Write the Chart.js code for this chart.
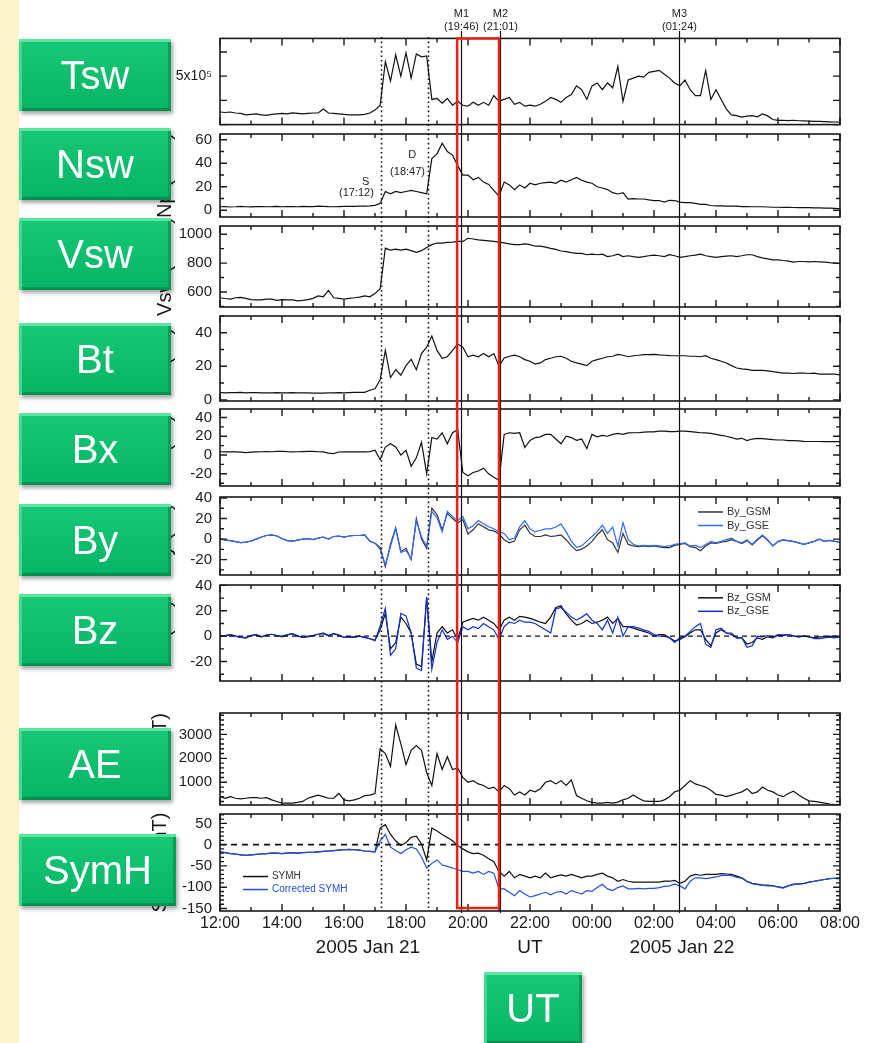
<!DOCTYPE html>
<html>
<head>
<meta charset="utf-8">
<script src="https://cdn.jsdelivr.net/npm/chart.js@4.4.1/dist/chart.umd.min.js"></script>
<style>
  body { margin:0; width:872px; height:1043px; background:#fff; position:relative; overflow:hidden;
         font-family:"Liberation Sans", Arial, sans-serif; }
  .strip { position:absolute; left:0; top:0; width:19px; height:1043px; background:#fdf3c9; }
  canvas { position:absolute; }
  #overlay { pointer-events:none; z-index:3; }
  .tag { position:absolute; width:152px; height:72px; color:#fff; font-size:40px; line-height:72px;
         text-align:center; z-index:5; background:linear-gradient(#17c874,#05b565);
         box-shadow: inset 0 3px 0 #5ee3a0, inset 3px 0 0 #3fd88e, inset 0 -3px 0 #07914f,
                     inset -3px 0 0 #0a9d58, 2px 3px 4px rgba(0,0,0,.35); }
</style>
</head>
<body>
<div class="strip"></div>
<canvas id="overlay" width="720" height="920" style="left:150px;top:0"></canvas>
<script>
// 10-minute samples, hours after 2005 Jan 21 12:00 UT
const hours = Array.from({length: 121}, (_, i) => i / 6);

// proton temperature, units of 1e5 K
const tswE5 = [1.3,1.25,1.3,1.2,1.15,1.0,1.05,1.1,1.0,0.95,1.05,
  1.1,1.15,1.1,1.2,1.15,1.1,1.15,1.2,1.2,1.6,
  1.2,1.15,1.1,1.05,1.0,1.0,1.0,1.05,1.2,1.5,
  2.0,6.5,4.5,7.2,5.0,7.4,4.8,7.3,7.0,7.1,
  2.6,2.7,2.2,2.7,2.0,2.4,2.0,1.9,2.3,2.0,
  2.3,2.0,3.0,2.4,2.6,2.8,2.1,2.3,1.9,2.0,
  1.9,2.1,2.4,2.8,2.6,2.3,2.8,3.1,4.0,3.6,
  2.6,4.0,4.3,3.6,4.3,3.8,6.0,2.4,4.6,4.8,
  5.0,4.9,5.4,5.5,5.6,5.2,4.8,4.3,4.0,4.6,
  3.6,3.0,3.0,5.6,2.6,3.6,2.6,1.6,1.0,0.93,
  0.77,0.87,0.93,0.8,1.1,0.9,0.53,0.43,0.45,0.42,
  0.45,0.4,0.38,0.35,0.33,0.33,0.3,0.28,0.27,0.25];

// proton density, cm^-3
const np = [3.0,3.2,2.8,3.0,3.3,3.0,2.9,3.1,3.2,3.0,3.1,
  3.3,3.0,3.2,3.1,3.0,3.4,3.2,3.1,3.5,3.3,
  3.1,3.0,3.2,3.3,3.4,3.3,3.5,3.6,3.8,4.2,
  6.0,16,14,16,15,16,17,16,15,14,
  44,48,57,50,47,38,30,30,26,28,
  24,22,17,12,24,21.6,17.6,21.6,19,23,
  21.6,23,23.5,24,23,25.6,24,26,28,25.6,
  24,23,20,19,17.6,15,13.9,15,9.6,10,
  9.6,9.6,8.8,8.3,8.3,7,8.5,8.3,7,6.5,
  6.5,5.9,5.1,5.1,4.1,3.8,3.8,3.6,3.5,3.5,
  3.2,3.2,3.0,3.0,3.0,2.8,2.6,2.6,2.5,2.6,
  2.4,2.3,2.2,2.2,2.0,2.0,1.8,1.8,1.6,1.3];

// flow speed, km/s
const vsw = [560,555,551,560,562,556,547,545,545,551,551,
  542,547,545,545,538,542,547,556,573,567,
  611,560,556,551,556,560,565,573,567,589,
  622,904,890,897,890,897,886,875,886,908,
  928,939,939,943,945,950,950,972,967,961,
  958,954,950,945,940,933,928,928,933,928,
  917,917,911,902,895,884,880,873,867,867,
  858,862,858,862,845,851,862,845,851,845,
  840,845,851,855,851,845,858,851,840,845,
  851,855,862,851,845,840,845,849,851,845,
  851,858,858,845,836,829,823,823,818,814,
  807,811,811,809,811,809,807,803,800,796];

// field magnitude and components, nT
const bt = [4.3,4.2,4.3,4.3,4.4,4.2,4.3,4.3,4.2,4.1,4.2,
  4.3,4.2,4.2,4.3,4.2,4.2,4.1,4.0,4.0,4.0,
  4.1,4.2,4.3,4.2,4.3,4.4,4.4,4.5,5.7,6.6,
  12,29.5,13.3,18,14.7,20.4,24.2,18,27.6,31.4,
  38,29.5,24.8,25.7,29.5,33.3,31.4,25.7,26.6,25.7,
  27.6,25.7,27.6,20,25,26,26.6,25.7,24,23,
  21.3,22,24,24.8,25.7,26,24.8,23,22,21.3,
  20.4,23,24,24.8,25.7,26,27.1,26.6,25.7,26.3,
  26.6,27,27,27.1,26.8,26.6,26.4,26.3,26.3,26.3,
  26,26,25.7,26.3,24.8,24,23,22,20.4,19,
  18.5,18.2,17.6,17.6,17.6,17.3,16.8,16.4,15.9,15.9,
  15.7,15.9,16,15.7,15.9,15.3,15.3,15.4,15.3,14.9];

const bx = [3.5,3.4,3.5,3.3,3.0,2.5,3.0,3.4,3.5,3.6,3.5,
  3.8,4.0,3.6,3.4,3.5,3.6,3.8,3.9,3.5,3.3,
  2.0,1.5,3.2,3.5,3.3,3.4,3.5,3.4,3.6,5.1,
  -5,8.5,12,8.5,0,5,-12,-3,13.5,-20,
  18.6,17,23.7,12,23.7,27,-18.6,-22,-18.6,-17,
  -14,-20,-23.7,-27,22,23.7,23,23.7,8,15.6,
  18.6,19.3,22,22,17,12,20,18.6,15.6,17,
  6.8,22,19.3,20.8,20,22,23,22,23.5,23.7,
  23.7,24.4,24.7,24.7,25.4,25.4,25,25,25.4,25.4,
  25,24.4,23.7,23.5,23,22,21,20,18.6,17,
  17.8,15.3,17,17.8,17.5,17,16.3,16,16,15.3,
  15.3,15,14.6,14.4,14.4,14.4,14.3,14.3,14.2,14.2];

const byGse = [0.5,-1,-1.5,-2.5,-3.5,-3,-2,0,2,3.5,4,
  3,0.5,-1.5,-2,-1,0,0.5,-0.5,1,2,
  0,2.5,3,2,3,3.5,3.5,4,-2,-4,
  -10,-25,-7,10,-13,-11,-19,18,2,-7,
  27,21,7,27,22,18,22,10,13,18,
  15,12,10,7,5.5,-0.6,1,12,18,10,
  7,8.6,10,10,11.7,14.8,7,-2,-8,-6.7,
  -2,2.5,7,13.6,5.5,11.7,-6.7,16,-0.6,-5,
  -6.7,-6.1,-6.7,-6.1,-6.7,-7.3,-6.7,-5.2,-4.3,-3.7,
  -6.7,-6.1,-8.3,-5.2,-2.2,-3.7,-2.2,-0.6,0.9,-2.2,
  -3.7,-0.6,-5.2,0,4,-0.6,-6.7,-2.2,-0.6,-1.5,
  -2.2,-3.7,-5.2,-3.7,-2.2,0,-2.2,-1.2,-2.2,-3.1];

const byGsm = [0.5,-1,-1.5,-2.5,-3.5,-3,-2,0,2,3.5,4,
  3,0.5,-1.5,-2,-1,0,0.5,-0.5,1,2,
  0,2.5,3,2,3,3.5,3.5,4,-2,-4,
  -8,-27,-5,11,-12,-9,-20,20,0,-9,
  30,24,9,25,20,16,19,5,9,15,
  12,9,8,5,-0.6,-3.7,-2,9,13.6,5.5,
  2.5,2.5,4,2.5,3.1,4,-0.6,-6.7,-11.3,-9.8,
  -6.7,-2.2,4,9,-0.6,-3.7,-13,5.5,-5.2,-6.7,
  -7.3,-6.7,-7.3,-6.7,-7.6,-8.3,-8.3,-6.1,-5.2,-4.3,
  -7.3,-8.3,-11.3,-6.7,-3.7,-4.3,-3.1,-2.2,-0.6,-2.2,
  -4.3,-1.5,-5.8,-0.9,3.1,-1.2,-6.7,-2.5,-0.9,-1.8,
  -2.5,-3.7,-5.2,-3.7,-2.2,0,-2.2,-1.2,-2.2,-3.1];

const bzGse = [0.5,0.5,1.5,0,-1,-1,0.5,1.5,-0.5,1,1.5,
  0.5,0,1,2,0.5,-1,0,0.5,1.5,2.5,
  0.5,2,1,-1,-0.5,-0.5,0,-1,-2,-3.5,
  8,22,-15,-10,18,16,2.5,-25,-27,31,
  -26,-5,5,-2.5,0,-5,7.5,5,7.5,6,
  10,7.5,5,-2.5,7.5,11,10,12.6,11,11,
  10,7.5,5,2.5,21.4,22.6,18.9,15,12.6,15,
  17.6,12.6,10,5,12.6,2.5,15,0,7.5,7.5,
  6.3,5,3.8,1.3,0,0,-1.3,-5,-1.3,0,
  3.8,7.5,10,-6.3,-8.8,5,6.3,2.5,2.5,-1.3,
  -1.3,-8.8,-7.5,0,-0.5,0.5,-0.8,1.3,1,1.3,
  0.3,-0.5,0.5,-0.5,-2,-2,-1.3,-0.8,-1.3,-0.8];

const bzGsm = [0,0.5,1,0,-1,-1.5,0.5,1,-0.5,0.5,1.5,
  0.5,-0.5,1,2,0,-1,-0.5,0.5,1.5,2,
  0.5,2,0.5,-1,-0.5,-1,0,-1,-2,-3,
  5,18,-10,-5,15,10,2.5,-22,-24,30,
  -20,2.5,7.5,2.5,5,-2.5,11,12.6,14,12.6,
  15,12.6,10,5,12.6,15,12.6,15.6,15,14,
  12.6,11,10,15,22.6,23.9,17.6,12.6,8.8,10,
  12.6,10,11,12.6,15,10,14,7.5,7.5,6.3,
  5,3.8,2.5,0,1.3,1.3,-1.3,-3.8,-2.5,-0.5,
  2.5,5,5,-2.5,-7.5,2.5,5,2.5,1.3,-1.3,
  -1.3,-6.3,-5,-1.3,-2.5,-0.5,-1.3,0.8,0.5,1.3,
  0,-0.5,0,-0.5,-1.3,-0.5,-0.5,0,-0.5,-0.5];

// AE index, nT
const ae = [400,333,400,333,307,333,360,360,333,360,267,
  200,133,133,133,160,200,333,400,467,400,
  333,333,533,267,227,267,333,440,467,533,
  2400,2200,1667,3400,2600,1733,2333,2533,2333,1400,
  867,2200,1533,2067,1533,1600,1200,1000,1067,933,
  867,733,800,600,867,733,467,600,467,667,
  600,733,1000,1067,933,1067,867,1100,450,333,
  227,160,133,133,160,133,173,267,333,467,
  333,227,200,200,200,267,400,600,667,867,
  1067,933,867,800,667,493,467,400,467,533,
  600,733,533,600,800,667,600,467,400,533,
  627,467,333,227,200,173,133,93,67,67];

// SYM-H and pressure-corrected SYM-H, nT
const symh = [-17,-19,-21,-22,-24,-25,-24,-23,-22,-21,-20,
  -20,-21,-20,-19,-20,-19,-18,-18,-17,-16,
  -15,-14,-13,-12,-11,-12,-13,-15,-16,-17,
  39,47,24,9,-2,5,17,20,1.5,-36,
  39,32,24,17,9,-2,-10,-17,-21,-20,
  -25,-33,-40,-63,-74,-63,-78,-70,-74,-78,
  -74,-78,-67,-78,-74,-71,-74,-70,-74,-78,
  -74,-74,-70,-67,-74,-78,-86,-82,-86,-88,
  -88,-88,-88,-88,-88,-86,-86,-84,-91,-86,
  -74,-70,-72,-70,-70,-70,-68,-69,-70,-74,
  -78,-86,-91,-93,-95,-95,-97,-99,-101,-97,
  -93,-92,-91,-88,-86,-84,-82,-80,-79,-78];

const symhCorr = [-17,-19,-21,-22,-24,-25,-24,-23,-22,-21,-20,
  -20,-21,-20,-19,-20,-19,-18,-18,-17,-16,
  -15,-14,-13,-12,-11,-12,-13,-15,-16,-17,
  9,24,-6,-14,-21,-12,-6,-10,-29,-55,
  -44,-36,-48,-51,-55,-59,-63,-63,-67,-63,
  -70,-63,-67,-104,-104,-112,-120,-108,-116,-123,
  -120,-116,-112,-118,-112,-110,-116,-108,-112,-116,
  -108,-110,-101,-93,-104,-108,-101,-97,-104,-104,
  -103,-104,-103,-103,-101,-98,-97,-93,-97,-104,
  -86,-78,-78,-80,-78,-76,-73,-72,-73,-77,
  -79,-87,-92,-94,-96,-97,-97,-100,-102,-97,
  -94,-93,-92,-88,-86,-84,-82,-80,-79,-78];

// axis labels
const tswTicks = [5];
const npTicks = [0, 20, 40, 60];
const vswTicks = [600, 800, 1000];
const btTicks = [0, 20, 40];
const bTicks = [-20, 0, 20, 40];
const aeTicks = [1000, 2000, 3000];
const symhTicks = [-150, -100, -50, 0, 50];
const utTicks = [0, 2, 4, 6, 8, 10, 12, 14, 16, 18, 20];
const utLabels = ['12:00','14:00','16:00','18:00','20:00','22:00','00:00','02:00','04:00','06:00','08:00'];

// event markers: name, clock label, hours after 12:00
const eventNames = ['S', 'D', 'M1', 'M2', 'M3'];
const eventClock = ['17:12', '18:47', '19:46', '21:01', '01:24'];
const eventHours = [5.2, 6.72, 7.767, 9.017, 14.82];
const boxHours = [7.65, 9.0];

Chart.defaults.font.family = '"Liberation Sans", Arial, sans-serif';
Chart.defaults.color = '#1a1a1a';
Chart.defaults.animation = false;

const BLACK = '#111', BLUE = '#1f4fe6';
const pts = vals => vals.map((v, i) => ({x: hours[i], y: v}));

const rows = [
  {top:37,  bottom:126, min:0,    max:8.9,  minor:2.5, major:2.5, ticks:tswTicks, fmt:() => '5x10⁵', title:'',
   series:[{data:tswE5, color:BLACK}]},
  {top:132, bottom:219, min:-5.7, max:64.9, minor:10,  major:20,  ticks:npTicks,  title:'Np (cm⁻³)',
   series:[{data:np, color:BLACK}],
   notes:[{text:'S', t:4.7, v:24}, {text:'(17:12)', t:4.4, v:14.5}, {text:'D', t:6.2, v:47}, {text:'(18:47)', t:6.05, v:32.5}]},
  {top:224, bottom:309, min:496,  max:1057, minor:100, major:200, ticks:vswTicks, title:'Vsw (km/s)',
   series:[{data:vsw, color:BLACK}]},
  {top:314, bottom:403, min:-0.7, max:50,   minor:10,  major:20,  ticks:btTicks,  title:'Bt (nT)',
   series:[{data:bt, color:BLACK}]},
  {top:407, bottom:488, min:-33,  max:49,   minor:10,  major:20,  ticks:bTicks,   title:'Bx (nT)',
   series:[{data:bx, color:BLACK}]},
  {top:495, bottom:577, min:-35,  max:41,   minor:10,  major:20,  ticks:bTicks,   title:'By (nT)',
   series:[{data:byGse, color:'#2f6bff', label:'By_GSE'}, {data:byGsm, color:'#333', label:'By_GSM'}],
   legend:{t:15.42, v:26.4, gap:13.5, order:[1, 0]}},
  {top:583, bottom:683, min:-35.3, max:40.3, minor:10, major:20,  ticks:bTicks,   title:'Bz (nT)', zero:true,
   series:[{data:bzGse, color:'#0c2fe0', label:'Bz_GSE'}, {data:bzGsm, color:BLACK, label:'Bz_GSM'}],
   legend:{t:15.42, v:30.2, gap:13.5, order:[1, 0]}},
  {top:711, bottom:807, min:52,   max:3892, minor:200, major:1000, ticks:aeTicks, title:'AE (nT)', titleEnd:true,
   series:[{data:ae, color:BLACK}]},
  {top:812, bottom:911, min:-156, max:72,   minor:10,  major:50,  ticks:symhTicks, title:'SYMH (nT)', zero:true, last:true,
   series:[{data:symhCorr, color:BLUE, label:'Corrected SYMH'}, {data:symh, color:BLACK, label:'SYMH'}],
   legend:{t:0.74, v:-75, gap:13, order:[1, 0], small:true}}
];

function drawFrame(chart, row) {
  const {ctx, chartArea: a, scales: {x, y}} = chart;
  ctx.save();
  if (row.zero) {
    const y0 = y.getPixelForValue(0);
    ctx.setLineDash(row.last ? [6, 5] : [5, 4]);
    ctx.lineWidth = row.last ? 1.8 : 1.2;
    ctx.strokeStyle = '#111';
    ctx.beginPath(); ctx.moveTo(a.left, y0); ctx.lineTo(a.right, y0); ctx.stroke();
    ctx.setLineDash([]);
  }
  ctx.strokeStyle = '#1a1a1a';
  ctx.lineWidth = 1.4;
  ctx.beginPath();
  for (let h = 0; h <= 20; h++) {
    const px = x.getPixelForValue(h), len = h % 2 ? 4 : 7;
    ctx.moveTo(px, a.top); ctx.lineTo(px, a.top + len);
    ctx.moveTo(px, a.bottom); ctx.lineTo(px, a.bottom - len);
  }
  for (let v = Math.ceil(row.min / row.minor) * row.minor; v <= row.max; v += row.minor) {
    const py = y.getPixelForValue(v);
    const q = v / row.major, len = Math.abs(q - Math.round(q)) < 1e-6 ? 7 : 4;
    ctx.moveTo(a.left, py); ctx.lineTo(a.left + len, py);
    ctx.moveTo(a.right, py); ctx.lineTo(a.right - len, py);
  }
  ctx.stroke();
  ctx.lineWidth = 1.6;
  ctx.strokeRect(a.left, a.top, a.right - a.left, a.bottom - a.top);

  if (row.legend) {
    const L = row.legend;
    const lx = x.getPixelForValue(L.t), ly = y.getPixelForValue(L.v);
    ctx.font = (L.small ? 10 : 11) + 'px "Liberation Sans", Arial, sans-serif';
    ctx.textBaseline = 'middle';
    L.order.forEach((si, k) => {
      const s = row.series[si], yy = ly + k * L.gap;
      ctx.strokeStyle = s.color; ctx.lineWidth = 1.5;
      ctx.beginPath(); ctx.moveTo(lx, yy); ctx.lineTo(lx + 25, yy); ctx.stroke();
      ctx.fillStyle = L.small && si === 0 ? s.color : '#333';
      ctx.fillText(s.label, lx + 29, yy);
    });
  }
  if (row.notes) {
    ctx.font = '11px "Liberation Sans", Arial, sans-serif';
    ctx.textAlign = 'center'; ctx.textBaseline = 'middle'; ctx.fillStyle = '#222';
    row.notes.forEach(n => ctx.fillText(n.text, x.getPixelForValue(n.t), y.getPixelForValue(n.v)));
  }
  if (row.last) {
    // date and time-zone captions under the hour labels
    ctx.font = '19px "Liberation Sans", Arial, sans-serif';
    ctx.textAlign = 'center'; ctx.textBaseline = 'middle'; ctx.fillStyle = '#1a1a1a';
    const yy = a.bottom + 37;
    ctx.fillText('2005 Jan 21', x.getPixelForValue(4.77), yy);
    ctx.fillText('UT', x.getPixelForValue(10), yy);
    ctx.fillText('2005 Jan 22', x.getPixelForValue(14.9), yy);
  }
  ctx.restore();
}

rows.forEach(row => {
  const padTop = 15, padBot = row.last ? 0 : 15, axisH = row.last ? 60 : 0;
  const c = document.createElement('canvas');
  c.width = 720;
  c.height = (row.bottom - row.top) + padTop + padBot + axisH;
  c.style.left = '150px';
  c.style.top = (row.top - padTop) + 'px';
  document.body.appendChild(c);

  new Chart(c, {
    type: 'line',
    data: {
      datasets: row.series.map(s => ({
        data: pts(s.data), borderColor: s.color, borderWidth: 1.2,
        pointRadius: 0, tension: 0, fill: false
      }))
    },
    options: {
      responsive: false,
      layout: {padding: {top: padTop, bottom: padBot, left: 0, right: 30}},
      plugins: {legend: {display: false}, tooltip: {enabled: false}},
      scales: {
        x: {
          type: 'linear', min: 0, max: 20, display: !!row.last,
          grid: {display: false, drawTicks: false}, border: {display: false},
          afterBuildTicks: s => { s.ticks = utTicks.map(v => ({value: v})); },
          afterFit: s => { s.height = axisH; },
          ticks: {padding: 3, font: {size: 16}, maxRotation: 0,
                  callback: v => utLabels[utTicks.indexOf(v)]}
        },
        y: {
          min: row.min, max: row.max,
          grid: {display: false, drawTicks: false}, border: {display: false},
          afterBuildTicks: s => { s.ticks = row.ticks.map(v => ({value: v})); },
          afterFit: s => { s.width = 70; },
          ticks: {padding: 8, font: {size: row.fmt ? 14 : 15}, callback: v => row.fmt ? row.fmt(v) : String(v)},
          title: {display: !!row.title, text: row.title, align: row.titleEnd ? 'end' : 'center',
                  font: {size: 20, lineHeight: 1}, padding: {top: row.titleEnd || row.last ? 0 : 5, bottom: 0}}
        }
      }
    },
    plugins: [{id: 'frame', afterDatasetsDraw: ch => drawFrame(ch, row)}]
  });
});

// event lines, the highlighted interval and the marker captions span all panels
new Chart(document.getElementById('overlay'), {
  type: 'line',
  data: {datasets: []},
  options: {
    responsive: false,
    layout: {padding: {top: 37, bottom: 9, left: 70, right: 30}},
    plugins: {legend: {display: false}, tooltip: {enabled: false}},
    scales: {
      x: {type: 'linear', min: 0, max: 20, display: false},
      y: {min: 0, max: 1, display: false}
    }
  },
  plugins: [{
    id: 'events',
    afterDraw(chart) {
      const {ctx, chartArea: a, scales: {x}} = chart;
      ctx.save();
      ctx.strokeStyle = '#111';
      eventNames.forEach((name, i) => {
        const px = Math.round(x.getPixelForValue(eventHours[i])) + 0.5;
        ctx.beginPath();
        if (name.startsWith('M')) {
          ctx.setLineDash([]); ctx.lineWidth = 1.2;
          ctx.moveTo(px, a.top - 6); ctx.lineTo(px, a.bottom + 2);
        } else {
          ctx.setLineDash([1.6, 3]); ctx.lineWidth = 1.6;
          ctx.moveTo(px, a.top); ctx.lineTo(px, a.bottom);
        }
        ctx.stroke();
        if (name.startsWith('M')) {
          ctx.fillStyle = '#222';
          ctx.font = '11px "Liberation Sans", Arial, sans-serif';
          ctx.textAlign = 'center'; ctx.textBaseline = 'middle';
          ctx.fillText(name, px, 14);
          ctx.fillText('(' + eventClock[i] + ')', px, 27);
        }
      });
      ctx.setLineDash([]);
      ctx.strokeStyle = '#ee2010';
      ctx.lineWidth = 2.5;
      const x0 = x.getPixelForValue(boxHours[0]), x1 = x.getPixelForValue(boxHours[1]);
      ctx.strokeRect(x0, a.top + 1.5, x1 - x0, a.bottom - a.top - 4.5);
      ctx.restore();
    }
  }]
});

// panel name tags
const tags = [['Tsw',19,39,152],['Nsw',19,128,152],['Vsw',19,218,152],['Bt',19,323,152],['Bx',19,413,152],
              ['By',19,504,152],['Bz',19,594,152],['AE',19,728,152],['SymH',19,834,157],['UT',484,972,98]];
tags.forEach(([txt, l, t, w]) => {
  const d = document.createElement('div');
  d.className = 'tag';
  d.textContent = txt;
  Object.assign(d.style, {left: l + 'px', top: t + 'px', width: w + 'px'});
  document.body.appendChild(d);
});
</script>
</body>
</html>
